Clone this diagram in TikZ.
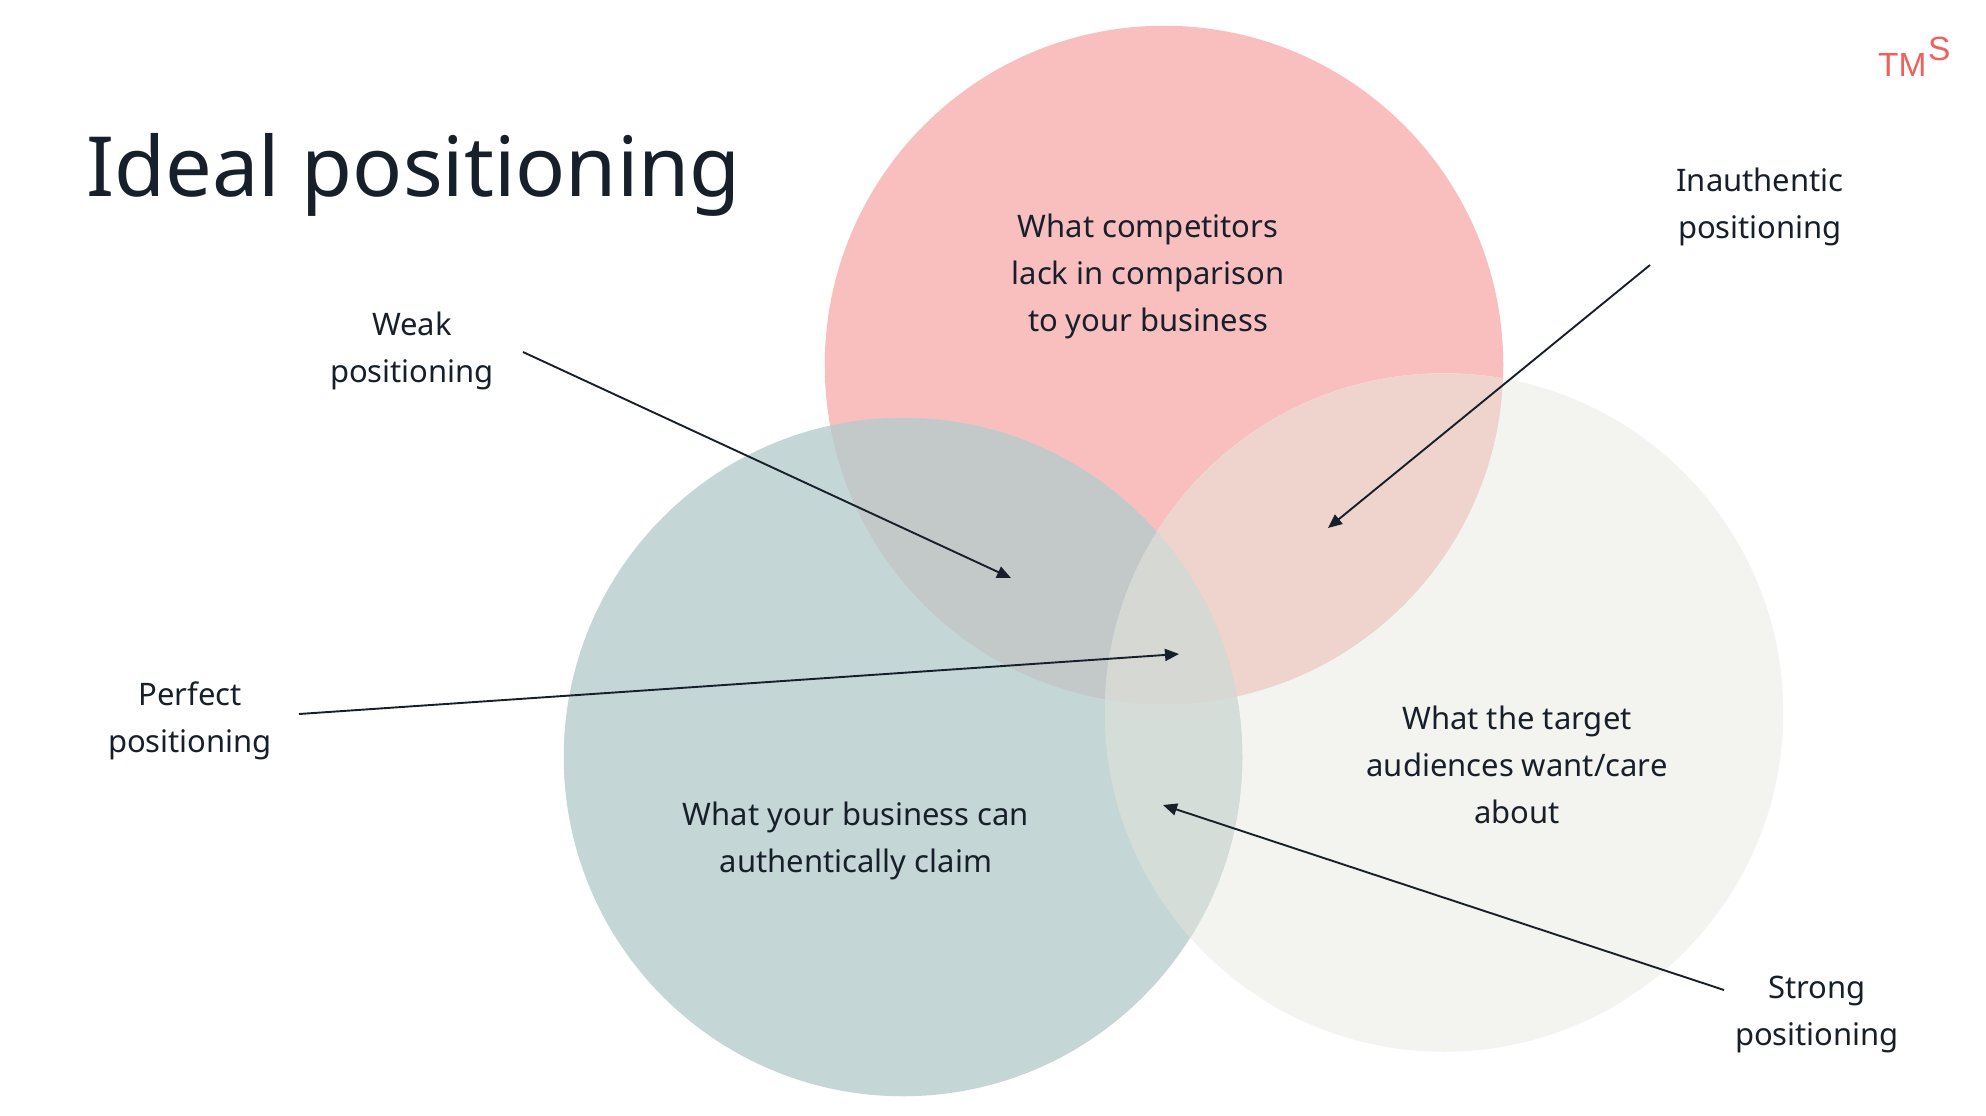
\documentclass[tikz,border=0pt]{standalone}
\usepackage{fontspec}
\setmainfont{Noto Sans}[Ligatures=NoCommon]
\newfontfamily\logofont{Liberation Sans}
\usetikzlibrary{arrows.meta}
\definecolor{ink}{HTML}{17202A}
\definecolor{cpink}{HTML}{F9BFBF}
\definecolor{cblue}{HTML}{C4D6D6}
\definecolor{cwhite}{HTML}{F3F4F0}
\definecolor{cpb}{HTML}{C3C9C9}
\definecolor{cpw}{HTML}{EFD4CE}
\definecolor{cbw}{HTML}{D5DDD9}
\definecolor{call}{HTML}{D6D8D3}
\definecolor{logo}{HTML}{F0605C}
\tikzset{
  x=1pt,y=-1pt,
  lbl/.style={align=center,text=ink,font=\fontsize{31}{47}\selectfont,inner sep=0pt},
  conn/.style={draw=ink,line width=1.9pt,-{Triangle[length=14pt,width=12pt]}},
  circ/.style={circle,minimum size=678.5pt,inner sep=0pt,outer sep=0pt},
  logotxt/.style={anchor=base west,inner sep=0pt,text=logo,font=\logofont\fontsize{33.5}{34}\selectfont}
}
\newcommand{\cPink}{(1164,365) circle[radius=339.25]}
\newcommand{\cWhite}{(1444,712.5) circle[radius=339.25]}
\newcommand{\cBlue}{(903,757) circle[radius=339.25]}
\begin{document}
\begin{tikzpicture}
\useasboundingbox (0,0) rectangle (1986,1116);
\fill[white] (0,0) rectangle (1986,1116);
\node[circ,fill=cpink] (pink) at (1164,365) {};
\node[circ,fill=cwhite] (offwhite) at (1444,712.5) {};
\node[circ,fill=cblue] (blue) at (903,757) {};
\begin{scope}\clip \cPink; \fill[cpw] \cWhite; \end{scope}
\begin{scope}\clip \cPink; \fill[cpb] \cBlue; \end{scope}
\begin{scope}\clip \cWhite; \fill[cbw] \cBlue; \end{scope}
\begin{scope}\clip \cPink; \clip \cWhite; \fill[call] \cBlue; \end{scope}
\node[anchor=base west,inner sep=0pt,text=ink,font=\fontsize{83}{100}\selectfont] (title) at (86,196) {Ideal positioning};
\node[logotxt] (tm) at (1878,77) {TM};
\node[logotxt] (s) at (1928,61) {S};
\node[lbl] (lcomp) at (1148,276) {What competitors\\lack in comparison\\to your business};
\node[lbl] (ltarget) at (1517,765) {What the target\\audiences want/care\\about};
\node[lbl] (lbiz) at (856,841) {What your business can\\authentically claim};
\node[lbl] (lweak) at (412,351) {Weak\\positioning};
\node[lbl] (linauth) at (1760,207) {Inauthentic\\positioning};
\node[lbl] (lperfect) at (190,721) {Perfect\\positioning};
\node[lbl] (lstrong) at (1817,1014) {Strong\\positioning};
\coordinate (a1) at (523,352); \coordinate (b1) at (1011,578);
\coordinate (a2) at (1650,265); \coordinate (b2) at (1328,528);
\coordinate (a3) at (299,714); \coordinate (b3) at (1179,654);
\coordinate (a4) at (1724,990); \coordinate (b4) at (1163,805);
\draw[conn] (a1) -- (b1);
\draw[conn] (a2) -- (b2);
\draw[conn] (a3) -- (b3);
\draw[conn] (a4) -- (b4);
\end{tikzpicture}
\end{document}
